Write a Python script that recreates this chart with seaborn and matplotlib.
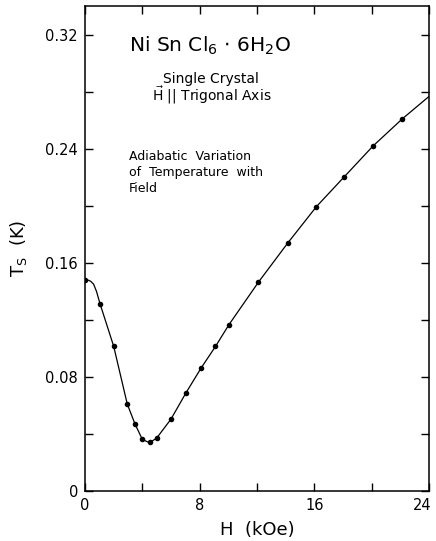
import matplotlib
matplotlib.use("Agg")
import matplotlib.pyplot as plt
from matplotlib.ticker import MultipleLocator, FixedLocator
from matplotlib.transforms import ScaledTranslation
import seaborn as sns
import pandas as pd

# Measured points
field_koe = [0.0, 1.05, 2.0, 2.95, 3.5, 4.0, 4.5, 5.0, 6.0, 7.05, 8.1, 9.1,
             10.05, 12.1, 14.15, 16.15, 18.1, 20.1, 22.15]
temp_k = [0.148, 0.1312, 0.1015, 0.0609, 0.0467, 0.0362, 0.0341, 0.0371,
          0.0504, 0.0689, 0.0862, 0.1013, 0.1167, 0.1464, 0.1739, 0.1994,
          0.2204, 0.2419, 0.2610]

# Drawn curve
curve_h = [0.0, 0.2, 0.4, 0.6, 0.8, 1.05, 2.0, 2.95, 3.5, 4.0, 4.5, 5.0, 6.0,
           7.05, 8.1, 9.1, 10.05, 12.1, 14.15, 16.15, 18.1, 20.1, 22.15, 24.0]
curve_t = [0.148, 0.1479, 0.1470, 0.1450, 0.1400, 0.1312, 0.1015, 0.0609,
           0.0467, 0.0362, 0.0338, 0.0371, 0.0504, 0.0689, 0.0862, 0.1013,
           0.1167, 0.1464, 0.1739, 0.1994, 0.2204, 0.2419, 0.2610, 0.2766]

x_ticks = [0, 8, 16, 24]
y_ticks = [0, 0.08, 0.16, 0.24, 0.32]
y_labels = ["0", "0.08", "0.16", "0.24", "0.32"]

sns.set_style("ticks")
plt.rcParams["font.family"] = ["DejaVu Sans"]
plt.rcParams["text.color"] = "black"
plt.rcParams["axes.labelcolor"] = "black"

W, Hpx = 436, 541
fig = plt.figure(figsize=(W / 100, Hpx / 100), dpi=100)
ax = fig.add_axes([85 / W, 50 / Hpx, 344 / W, 485 / Hpx])

pts = pd.DataFrame({"H": field_koe, "T": temp_k})
cur = pd.DataFrame({"H": curve_h, "T": curve_t})

sns.lineplot(data=cur, x="H", y="T", ax=ax, color="black", linewidth=0.9,
             sort=False, estimator=None)
sns.scatterplot(data=pts, x="H", y="T", ax=ax, color="black", s=16,
                edgecolor="black", linewidth=0, zorder=3)

ax.set_xlim(0, 24)
ax.set_ylim(0, 0.34)
ax.xaxis.set_major_locator(FixedLocator(x_ticks))
ax.xaxis.set_minor_locator(MultipleLocator(4))
ax.yaxis.set_major_locator(FixedLocator(y_ticks))
ax.yaxis.set_minor_locator(MultipleLocator(0.04))
ax.set_xticklabels([str(v) for v in x_ticks])
ax.set_yticklabels(y_labels)
ax.tick_params(which="both", direction="in", top=True, right=True,
               length=6, width=1.0, color="black", labelcolor="black")
ax.tick_params(axis="both", labelsize=10.5, pad=5)
for sp in ax.spines.values():
    sp.set_linewidth(1.1)
    sp.set_color("black")

# nudge the last x tick label inside the figure
last = ax.get_xticklabels()[-1]
last.set_transform(last.get_transform() + ScaledTranslation(-5 / 72, 0, fig.dpi_scale_trans))

ax.set_xlabel("H  (kOe)", fontsize=13, labelpad=6)
ax.set_ylabel("T$_\\mathrm{S}$  (K)", fontsize=13, labelpad=12)


def ftext(x, y, s, size):
    fig.text(x / W, 1 - y / Hpx, s, fontsize=size, ha="left", va="baseline",
             color="black")


ftext(129, 52, "Ni Sn Cl$_6$ $\\cdot$ 6H$_2$O", 14.5)
ftext(163, 83, "Single Crystal", 10)
ftext(152, 101, "$\\vec{\\mathrm{H}}$ || Trigonal Axis", 10)
ftext(129, 160, "Adiabatic  Variation", 9)
ftext(129, 176, "of  Temperature  with", 9)
ftext(129, 192, "Field", 9)

fig.savefig("out.png", dpi=100)
